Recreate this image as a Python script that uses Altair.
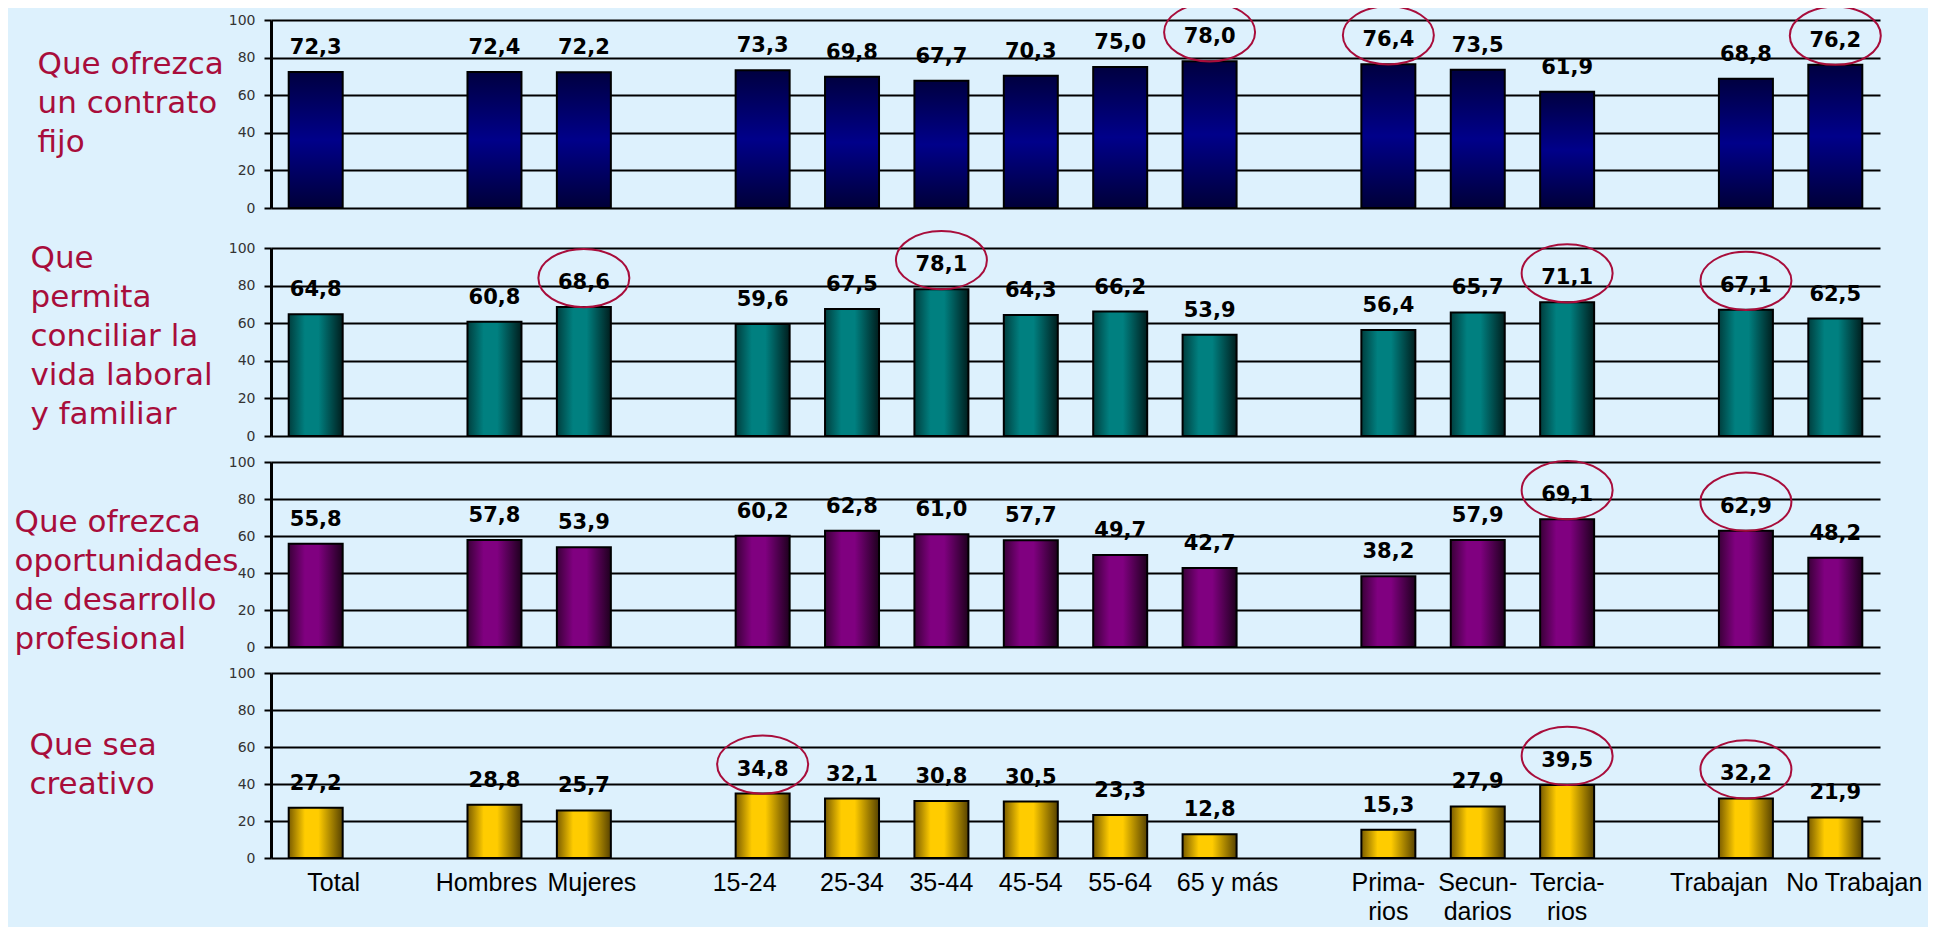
import json
import altair as alt
import pandas as pd

# ---------------- data ----------------
categories = ["Total", "Hombres", "Mujeres", "15-24", "25-34", "35-44", "45-54",
              "55-64", "65 y más", "Primarios", "Secundarios", "Terciarios",
              "Trabajan", "No Trabajan"]
tick_labels = ["Total", "Hombres", "Mujeres", "15-24", "25-34", "35-44", "45-54",
               "55-64", "65 y más", "Prima-\nrios", "Secun-\ndarios", "Tercia-\nrios",
               "Trabajan", "No Trabajan"]
groups = [["Total"], ["Hombres", "Mujeres"],
          ["15-24", "25-34", "35-44", "45-54", "55-64", "65 y más"],
          ["Primarios", "Secundarios", "Terciarios"],
          ["Trabajan", "No Trabajan"]]

contrato_fijo = [72.3, 72.4, 72.2, 73.3, 69.8, 67.7, 70.3, 75.0, 78.0, 76.4, 73.5, 61.9, 68.8, 76.2]
conciliar = [64.8, 60.8, 68.6, 59.6, 67.5, 78.1, 64.3, 66.2, 53.9, 56.4, 65.7, 71.1, 67.1, 62.5]
desarrollo = [55.8, 57.8, 53.9, 60.2, 62.8, 61.0, 57.7, 49.7, 42.7, 38.2, 57.9, 69.1, 62.9, 48.2]
creativo = [27.2, 28.8, 25.7, 34.8, 32.1, 30.8, 30.5, 23.3, 12.8, 15.3, 27.9, 39.5, 32.2, 21.9]

row_titles = [["Que ofrezca", "un contrato", "fijo"],
              ["Que", "permita", "conciliar la", "vida laboral", "y familiar"],
              ["Que ofrezca", "oportunidades", "de desarrollo", "profesional"],
              ["Que sea", "creativo"]]

highlights = [["65 y más", "Primarios", "No Trabajan"],
              ["Mujeres", "35-44", "Terciarios", "Trabajan"],
              ["Terciarios", "Trabajan"],
              ["15-24", "Terciarios", "Trabajan"]]

# ---------------- scales / styles ----------------
domain = []
for i, g in enumerate(groups):
    if i:
        domain.append(f"gap{i}")
    domain += g

label_map = {c: t.split("\n") for c, t in zip(categories, tick_labels)}
label_expr = "(" + json.dumps(label_map, ensure_ascii=False) + ")[datum.value] || ''"

PLOT_W = 1609
TITLE_RED = "#A80D3B"


def grad_h(c_edge_l, c_mid, c_edge_r):
    return {"gradient": "linear", "x1": 0, "y1": 0, "x2": 1, "y2": 0,
            "stops": [{"offset": 0, "color": c_edge_l},
                      {"offset": 0.3, "color": c_mid},
                      {"offset": 0.55, "color": c_mid},
                      {"offset": 1, "color": c_edge_r}]}


navy = {"gradient": "linear", "x1": 0, "y1": 0, "x2": 0, "y2": 1,
        "stops": [{"offset": 0, "color": "#000040"},
                  {"offset": 0.5, "color": "#00008A"},
                  {"offset": 1, "color": "#000038"}]}
teal = grad_h("#003E3E", "#008080", "#001E1E")
purple = grad_h("#3A0038", "#800080", "#1E001E")
gold = grad_h("#7A5C00", "#FFCC00", "#574200")

k = 0.5523
ry = 0.64
ellipse_path = (f"M-1,0 C-1,{-k*ry:.4f} {-k:.4f},{-ry} 0,{-ry} "
                f"C{k:.4f},{-ry} 1,{-k*ry:.4f} 1,0 "
                f"C1,{k*ry:.4f} {k:.4f},{ry} 0,{ry} "
                f"C{-k:.4f},{ry} -1,{k*ry:.4f} -1,0 Z")


def panel(values, title_lines, hl, fill, height, title_x, title_y, bottom=False):
    df = pd.DataFrame({"cat": categories, "v": values})
    df["hl"] = df["cat"].isin(hl)

    if bottom:
        x_axis = alt.Axis(title=None, domain=False, ticks=False, tickSize=0, grid=False,
                          labelAngle=0, labelFont="Liberation Sans", labelFontSize=25,
                          labelColor="black", labelBaseline="alphabetic",
                          labelPadding=32, labelLineHeight=29, labelLimit=400,
                          labelExpr=label_expr,
                          labelOffset={"condition": [
                              {"test": "datum.value === 'Total'", "value": 18},
                              {"test": "datum.value === 'Hombres'", "value": -8},
                              {"test": "datum.value === 'Mujeres'", "value": 8},
                              {"test": "datum.value === '15-24'", "value": -18},
                              {"test": "datum.value === '65 y más'", "value": 18},
                              {"test": "datum.value === 'Trabajan'", "value": -27},
                              {"test": "datum.value === 'No Trabajan'", "value": 19}],
                              "value": 0})
    else:
        x_axis = None

    x = alt.X("cat:N", scale=alt.Scale(domain=domain, paddingInner=0.396, paddingOuter=0.198),
              axis=x_axis)
    y = alt.Y("v:Q", scale=alt.Scale(domain=[0, 100], nice=False),
              axis=alt.Axis(values=[0, 20, 40, 60, 80, 100], format="d",
                            domainColor="black", domainWidth=3,
                            grid=True, gridColor="black", gridWidth=2, gridOpacity=1,
                            ticks=True, tickColor="black", tickWidth=2, tickSize=7,
                            labelPadding=9, labelFont="DejaVu Sans", labelFontSize=14,
                            labelColor="#333333",
                            title=title_lines, titleAngle=0, titleAlign="left",
                            titleBaseline="alphabetic", titleX=title_x, titleY=title_y,
                            titleFont="DejaVu Sans", titleFontSize=31,
                            titleFontWeight="normal", titleColor=TITLE_RED,
                            titleLineHeight=39))

    base = alt.Chart(df)
    bars = base.mark_bar(fill=fill, stroke="black", strokeWidth=2).encode(x=x, y=y)
    labels = base.transform_calculate(
        lbl="replace(format(datum.v, '.1f'), '.', ',')"
    ).mark_text(dy=-18, baseline="alphabetic", font="DejaVu Sans", fontSize=21,
                fontWeight="bold", color="black").encode(x=x, y=y, text="lbl:N")
    rings = base.transform_filter("datum.hl").mark_point(
        shape=ellipse_path, size=8281, filled=False, stroke=TITLE_RED,
        strokeWidth=2, opacity=1, yOffset=-29).encode(x=x, y=y)
    return alt.layer(bars, labels, rings).properties(width=PLOT_W, height=height)


p1 = panel(contrato_fijo, row_titles[0], highlights[0], navy, 188, -234, 53)
p2 = panel(conciliar, row_titles[1], highlights[1], teal, 188, -241, 19)
p3 = panel(desarrollo, row_titles[2], highlights[2], purple, 185, -257, 69)
p4 = panel(creativo, row_titles[3], highlights[3], gold, 185, -242, 81, bottom=True)

chart = alt.vconcat(p1, p2, p3, p4, spacing=12).properties(
    background="#DDF1FD",
    padding={"left": 6, "top": -9, "right": 5, "bottom": 5},
).configure_view(strokeWidth=0)

chart.save("out.html", embed_options={"renderer": "svg", "actions": False})
